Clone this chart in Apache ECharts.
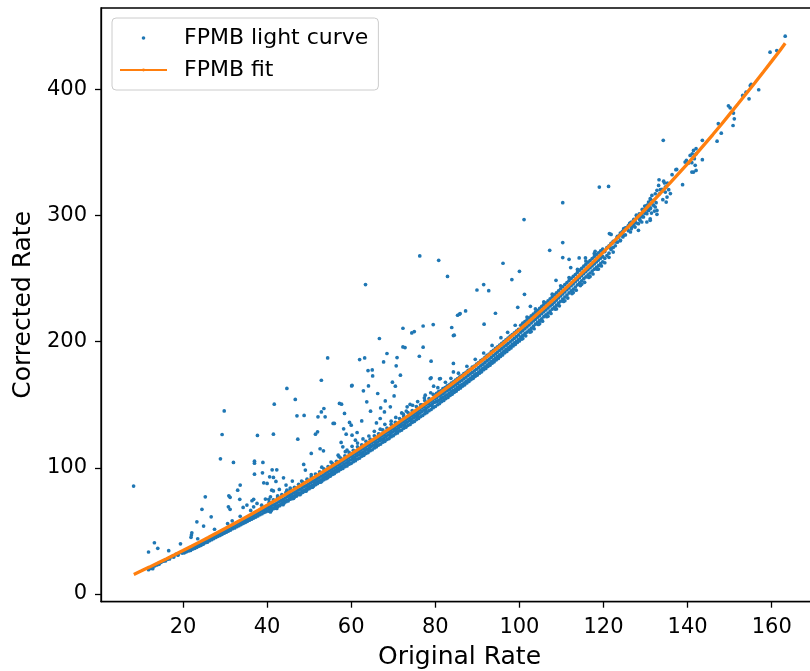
<!DOCTYPE html>
<html>
<head>
<meta charset="utf-8">
<script src="https://cdn.jsdelivr.net/npm/echarts@6/dist/echarts.min.js"></script>
<style>
html,body{margin:0;padding:0;background:#fff;}
#chart{width:810px;height:671px;}
</style>
</head>
<body>
<div id="chart"></div>
<script>
// ---- tick labels ----
const xTicks = [20, 40, 60, 80, 100, 120, 140, 160];
const yTicks = [0, 100, 200, 300, 400];

// ---- FPMB fit ----
const fitX = [8.3,10,12,14,16,18,20,22,24,26,28,30,32,34,36,38,40,42,44,46,48,50,52,54,56,58,60,62,64,66,68,70,72,74,76,78,80,82,84,86,88,90,92,94,96,98,100,102,104,106,108,110,112,114,116,118,120,122,124,126,128,130,132,134,136,138,140,142,144,146,148,150,152,154,156,158,160,162,163.2];
const fitY = [15.5,18.15,21.31,24.53,27.79,31.09,34.45,37.85,41.29,44.77,48.29,51.86,55.48,59.14,62.85,66.61,70.41,74.26,78.16,82.1,86.08,90.12,94.21,98.35,102.53,106.75,111.03,115.35,119.71,124.13,128.59,133.11,137.69,142.33,147.03,151.79,156.63,161.55,166.55,171.63,176.79,182.03,187.35,192.75,198.23,203.81,209.47,215.23,221.07,227.01,233.05,239.19,245.41,251.71,258.11,264.59,271.17,277.83,284.57,291.3,298.2,305.1,312.1,319.2,326.4,333.7,341.1,348.6,356.3,364.1,372.1,380.3,388.5,396.8,405.2,413.7,422.3,431.0,436.4];

// ---- FPMB light curve: dense band, low rates ----
const bandLow = [
[11.8,19.3],[12.3,20.2],[12.8,21.0],[12.8,20.0],[13.3,22.3],[13.8,23.0],[14.3,24.5],[14.3,23.6],[14.8,25.1],[15.3,26.0],
[15.8,27.0],[15.8,26.2],[16.3,27.5],[16.8,28.6],[16.8,27.8],[17.3,29.6],[17.8,30.1],[17.8,29.3],[18.3,31.5],[18.8,31.8],
[18.8,30.8],[19.3,32.9],[19.8,33.5],[19.8,32.4],
[20.3,34.3],[20.3,32.6],[20.8,35.0],[20.8,33.4],[21.3,35.6],[21.3,34.1],[21.8,36.8],[21.8,34.5],[22.3,37.3],[22.3,35.6],
[22.8,38.0],[22.8,36.2],[23.3,39.4],[23.3,37.0],[23.8,40.0],[23.8,37.9],[24.3,40.7],[24.3,38.6],[24.8,41.8],[24.8,39.5],
[25.3,42.3],[25.3,40.6],[25.8,43.5],[25.8,41.1],[26.3,44.2],[26.3,42.3],[26.8,45.0],[26.8,43.0],[27.3,46.2],[27.3,43.9],
[27.8,46.9],[27.8,44.8],[28.3,47.8],[28.3,45.7],[28.8,48.6],[28.8,46.4],[29.3,49.6],[29.3,47.3],[29.8,50.2],[29.8,48.2],
[30.3,51.3],[30.3,49.0],[30.8,52.0],[30.8,49.9],[31.3,53.1],[31.3,50.7],[31.8,53.8],[31.8,51.8],[32.3,54.9],[32.3,52.4],
[32.8,55.5],[32.8,53.3],[33.3,56.6],[33.3,54.1],[33.8,57.3],[33.8,55.0],[34.3,58.2],[34.3,55.9],[34.8,59.1],[34.8,56.7],
[35.3,60.0],[35.3,57.6],[35.8,60.8],[35.8,58.5],[36.3,61.8],[36.3,59.3],[36.8,62.5],[36.8,60.2],[37.3,63.4],[37.3,61.0],
[37.8,64.3],[37.8,61.9],[38.3,65.1],[38.3,62.8],[38.8,66.2],[38.8,63.6],[39.3,66.9],[39.3,64.6],[39.8,67.9],[39.8,65.3]
];

// ---- dense band, middle rates ----
const bandMid = [
[40.3,68.6],[40.3,66.1],[40.8,69.2],[40.8,66.8],[40.8,65.0],[41.3,70.5],[41.3,67.9],[41.8,71.0],[41.8,68.5],[42.3,72.1],
[42.3,69.6],[42.3,67.8],[42.8,73.1],[42.8,70.3],[43.3,74.2],[43.3,71.5],[43.8,75.0],[43.8,72.4],[43.8,70.8],[44.3,76.1],
[44.3,73.6],[44.8,77.2],[44.8,74.3],[45.3,78.0],[45.3,75.5],[45.3,79.9],[45.8,79.1],[45.8,76.4],[46.3,80.2],[46.3,77.3],
[46.3,75.8],[46.8,81.0],[46.8,78.6],[47.3,82.3],[47.3,79.5],[47.8,83.0],[47.8,80.2],[47.8,78.7],[48.3,84.1],[48.3,81.6],
[48.8,85.2],[48.8,82.4],[49.3,86.0],[49.3,83.3],[49.3,81.6],[49.8,87.1],[49.8,84.5],[50.3,88.0],[50.3,85.4],[50.8,89.2],
[50.8,86.3],[50.8,84.6],[51.3,90.1],[51.3,87.5],[51.8,91.0],[51.8,88.4],[51.8,93.0],[52.3,92.1],[52.3,89.4],[52.8,93.3],
[52.8,90.5],[52.8,88.7],[53.3,94.2],[53.3,91.6],[53.8,95.5],[53.8,92.8],[54.3,96.6],[54.3,93.9],[54.3,92.0],[54.8,97.8],
[54.8,95.0],[55.3,98.9],[55.3,96.3],[55.8,100.0],[55.8,97.3],[55.8,95.4],[56.3,101.1],[56.3,98.3],[56.8,102.3],[56.8,99.5],
[56.8,104.3],[57.3,103.3],[57.3,100.7],[57.8,104.5],[57.8,101.6],[57.8,99.8],[58.3,105.6],[58.3,102.9],[58.8,106.8],[58.8,104.0],
[59.3,107.8],[59.3,105.1],[59.3,103.3],[59.8,109.1],[59.8,106.2],[60.3,110.0],[60.3,107.4],[60.8,111.0],[60.8,108.2],[60.8,106.5],
[61.3,112.1],[61.3,109.4],[61.8,113.0],[61.8,110.3],[61.8,115.2],[62.3,114.1],[62.3,111.5],[62.8,115.2],[62.8,112.4],[62.8,110.6],
[63.3,116.3],[63.3,113.6],[63.8,117.5],[63.8,114.7],[64.3,118.6],[64.3,115.8],[64.3,114.0],[64.8,119.8],[64.8,117.0],[65.3,120.9],
[65.3,118.1],[65.8,122.0],[65.8,119.2],[65.8,117.3],[66.3,123.1],[66.3,120.4],[66.8,124.2],[66.8,121.5],[66.8,126.5],[67.3,125.3],
[67.3,122.6],[67.8,126.5],[67.8,123.7],[67.8,121.8],[68.3,127.6],[68.3,124.9],[68.8,128.7],[68.8,126.0],[69.3,129.8],[69.3,127.1],
[69.3,125.3],[69.8,131.0],[69.8,128.3],[70.3,132.0],[70.3,129.4],[70.8,133.2],[70.8,130.5],[70.8,128.6],[71.3,134.4],[71.3,131.6],
[71.8,135.4],[71.8,132.8],[71.8,137.8],[72.3,136.6],[72.3,133.9],[72.8,137.7],[72.8,135.0],[72.8,133.1],[73.3,138.8],[73.3,136.1],
[73.8,140.0],[73.8,137.3],[74.3,141.1],[74.3,138.5],[74.3,136.6],[74.8,142.4],[74.8,139.6],[75.3,143.6],[75.3,140.9],[75.8,144.9],
[75.8,142.1],[75.8,140.0],[76.3,146.1],[76.3,143.3],[76.8,147.4],[76.8,144.5],[76.8,149.9],[77.3,148.6],[77.3,145.8],[77.8,149.9],
[77.8,147.0],[77.8,144.9],[78.3,151.1],[78.3,148.2],[78.8,152.3],[78.8,149.5],[79.3,153.6],[79.3,150.7],[79.3,148.6],[79.8,154.8],
[79.8,151.9]
];

// ---- lower edge of the band ----
const bandLowerEdge = [
[40.5,65.6],[41.0,66.2],[41.5,67.6],[42.0,68.0],[42.5,69.3],[43.0,70.0],[43.5,71.3],[44.0,71.9],[44.5,73.2],[45.0,73.8],
[45.5,75.1],[46.0,75.6],[46.5,76.9],[47.0,77.6],[47.5,78.9],[48.0,79.4],[48.5,80.6],[49.0,81.5],[49.5,82.6],[50.0,83.5],
[50.5,84.5],[51.0,85.4],[51.5,86.6],[52.0,87.5],[52.5,88.6],[53.0,89.4],[53.5,90.6],[54.0,91.4],[54.5,92.6],[55.0,93.4],
[55.5,94.7],[56.0,95.4],[56.5,96.8],[57.0,97.5],[57.5,98.8],[58.0,99.5],[58.5,100.9],[59.0,101.5],[59.5,102.9],[60.0,103.6],
[60.5,104.9],[61.0,105.6],[61.5,107.0],[62.0,107.7],[62.5,109.2],[63.0,109.9],[63.5,111.4],[64.0,112.1],[64.5,113.6],[65.0,114.3],
[65.5,115.8],[66.0,116.6],[66.5,118.0],[67.0,118.8],[67.5,120.3],[68.0,121.0],[68.5,122.5],[69.0,123.2],[69.5,124.7],[70.0,125.5],
[70.5,126.9],[71.0,127.6],[71.5,129.2],[72.0,129.9],[72.5,131.4],[73.0,132.2],[73.5,133.7],[74.0,134.4],[74.5,136.0],[75.0,136.8],
[75.5,138.2],[76.0,139.1],[76.5,140.6],[77.0,141.5],[77.5,142.9],[78.0,143.8],[78.5,145.3],[79.0,146.2],[79.5,147.7],[80.0,148.6],
[80.5,150.0],[81.0,150.9],[81.5,152.5],[82.0,153.4],[82.5,154.9],[83.0,155.8],[83.5,157.4],[84.0,158.3],[84.5,159.8],[85.0,160.8],
[85.5,162.3],[86.0,163.3],[86.5,164.8],[87.0,165.8],[87.5,167.3],[88.0,168.4],[88.5,169.9],[89.0,170.9],[89.5,172.5],[90.0,173.5],
[90.5,175.0],[91.0,176.1],[91.5,177.7],[92.0,178.7],[92.5,180.3],[93.0,181.3],[93.5,182.9],[94.0,184.0],[94.5,185.6],[95.0,186.7],
[95.5,188.3],[96.0,189.4],[96.5,191.1],[97.0,192.2],[97.5,193.8],[98.0,195.0],[98.5,196.6],[99.0,197.8],[99.5,199.4],[100.0,200.6],
[100.5,202.0],[101.5,204.6],[102.5,207.6],[103.5,210.2],[104.5,213.6],[105.5,216.2],[106.5,219.7],[107.5,222.3],[108.5,225.8],[109.5,228.4],
[110.5,231.9],[111.5,234.5],[112.5,238.1],[113.5,240.8],[114.5,244.4],[115.5,247.0],[116.5,250.9],[117.5,253.6],[118.5,257.4],[119.5,260.0]
];

// ---- upper edge of the band (just above the fit) ----
const bandUpperEdge = [
[40.5,72.8],[41.5,74.6],[42.5,76.8],[43.5,78.8],[44.5,80.6],[45.5,82.8],[46.5,84.6],[47.5,86.9],[48.5,88.6],[49.5,91.0],
[50.5,92.7],[51.5,95.1],[52.5,96.8],[53.5,99.2],[54.5,101.0],[55.5,103.5],[56.5,105.2],[57.5,107.8],[58.5,109.5],[59.5,112.2],
[60.5,113.9],[61.5,116.6],[62.5,118.2],[63.5,121.0],[64.5,122.7],[65.5,125.4],[66.5,127.0],[67.5,130.0],[68.5,131.5],[69.5,134.5],
[70.5,136.0],[71.5,139.0],[72.5,140.6],[73.5,143.8],[74.5,145.3],[75.5,148.6],[76.5,150.0],[77.5,153.3],[78.5,154.8],[79.5,158.2]
];

// ---- dense band, high rates ----
const bandHigh = [
[80.3,159.0],[80.3,155.5],[80.3,152.6],[80.8,160.4],[80.8,156.9],[80.8,153.5],[81.3,161.0],[81.3,157.6],[81.3,154.8],[81.8,162.8],
[81.8,158.8],[81.8,155.6],[82.3,163.5],[82.3,160.0],[82.3,157.0],[82.8,164.9],[82.8,161.1],[82.8,157.9],[83.3,165.8],[83.3,162.3],
[83.3,159.3],[83.8,167.1],[83.8,163.4],[83.8,160.4],[84.3,168.2],[84.3,164.6],[84.3,161.4],[84.8,169.6],[84.8,165.7],[84.8,162.3],
[85.3,170.8],[85.3,166.9],[85.3,163.8],[85.8,172.1],[85.8,168.2],[85.8,164.9],[86.3,173.1],[86.3,169.4],[86.3,166.0],[86.8,174.7],
[86.8,170.8],[86.8,167.2],[87.3,175.7],[87.3,171.9],[87.3,168.6],[87.8,177.2],[87.8,173.2],[87.8,169.8],[88.3,178.1],[88.3,174.5],
[88.3,171.0],[88.8,179.8],[88.8,175.7],[88.8,172.3],[89.3,180.7],[89.3,176.9],[89.3,173.6],[89.8,182.2],[89.8,178.1],[89.8,174.7],
[90.3,183.4],[90.3,179.4],[90.3,175.8],[90.8,184.9],[90.8,180.8],[90.8,177.4],[91.3,186.0],[91.3,182.1],[91.3,178.9],[91.8,187.6],
[91.8,183.5],[91.8,180.1],[92.3,189.1],[92.3,184.9],[92.3,181.4],[92.8,190.2],[92.8,186.2],[92.8,182.9],[93.3,191.9],[93.3,187.6],
[93.3,184.2],[93.8,193.0],[93.8,189.0],[93.8,185.5],[94.3,194.6],[94.3,190.3],[94.3,186.9],[94.8,195.8],[94.8,191.7],[94.8,188.4],
[95.3,197.3],[95.3,193.1],[95.3,189.6],[95.8,198.7],[95.8,194.5],[95.8,190.9],[96.3,200.0],[96.3,195.8],[96.3,192.4],[96.8,201.5],
[96.8,197.2],[96.8,193.6],[97.3,202.8],[97.3,198.5],[97.3,195.0],[97.8,204.3],[97.8,199.9],[97.8,196.3],[98.3,205.5],[98.3,201.3],
[98.3,197.8],[98.8,207.0],[98.8,202.6],[98.8,199.1],[99.3,208.4],[99.3,204.0],[99.3,200.3],[99.8,209.8],[99.8,205.4],[99.8,201.8],
[100.3,213.0],[100.3,207.5],[100.3,203.6],[100.8,214.6],[100.8,208.9],[100.8,205.0],[100.8,202.4],[101.3,215.8],[101.3,210.3],[101.3,206.4],
[101.8,217.2],[101.8,211.7],[101.8,207.6],[101.8,219.5],[102.3,218.8],[102.3,213.2],[102.3,209.1],[102.8,220.4],[102.8,214.8],[102.8,210.5],
[102.8,208.0],[103.3,221.8],[103.3,216.4],[103.3,212.1],[103.8,223.4],[103.8,217.7],[103.8,213.8],[103.8,225.9],[104.3,224.6],[104.3,219.4],
[104.3,215.2],[104.8,226.3],[104.8,220.6],[104.8,216.8],[104.8,214.2],[105.3,227.9],[105.3,222.3],[105.3,218.1],[105.8,229.4],[105.8,223.8],
[105.8,219.8],[105.8,231.5],[106.3,230.8],[106.3,225.2],[106.3,221.3],[106.8,232.3],[106.8,226.7],[106.8,222.6],[106.8,220.1],[107.3,233.9],
[107.3,228.3],[107.3,224.2],[107.8,235.4],[107.8,229.6],[107.8,225.8],[107.8,237.6],[108.3,237.0],[108.3,231.2],[108.3,227.2],[108.8,238.6],
[108.8,232.9],[108.8,228.8],[108.8,225.9],[109.3,240.2],[109.3,234.6],[109.3,230.5],[109.8,241.9],[109.8,236.2],[109.8,232.0],[109.8,244.2],
[110.3,243.5],[110.3,237.8],[110.3,233.7],[110.8,245.2],[110.8,239.4],[110.8,235.3],[110.8,232.4],[111.3,246.7],[111.3,241.1],[111.3,236.9],
[111.8,248.4],[111.8,242.6],[111.8,238.6],[111.8,250.8],[112.3,250.1],[112.3,244.3],[112.3,240.2],[112.8,251.7],[112.8,245.8],[112.8,241.6],
[112.8,238.9],[113.3,253.2],[113.3,247.6],[113.3,243.3],[113.8,254.9],[113.8,249.1],[113.8,245.0],[113.8,257.2],[114.3,256.6],[114.3,250.8],
[114.3,246.5],[114.8,258.1],[114.8,252.4],[114.8,248.2],[114.8,245.5],[115.3,259.8],[115.3,254.0],[115.3,249.9],[115.8,261.4],[115.8,255.6],
[115.8,251.3],[115.8,263.9],[116.3,262.9],[116.3,257.1],[116.3,252.9],[116.8,264.3],[116.8,258.6],[116.8,254.4],[116.8,251.6],[117.3,265.9],
[117.3,260.1],[117.3,255.9],[117.8,267.4],[117.8,261.6],[117.8,257.4],[117.8,269.8],[118.3,268.9],[118.3,263.1],[118.3,258.8],[118.8,270.4],
[118.8,264.6],[118.8,260.3],[118.8,257.5],[119.3,271.9],[119.3,266.1],[119.3,261.9],[119.8,273.4],[119.8,267.6],[119.8,263.3],
[120.3,271.4],[120.3,266.0],[120.3,262.5],[120.8,274.5],[120.8,268.2],[121.3,276.0],[121.3,270.1],[121.3,266.8],[121.8,277.9],[121.8,273.0],
[122.3,279.5],[122.3,274.6],[122.3,271.0],[122.8,280.2],[122.8,276.0],[123.3,283.4],[123.3,278.8],[124.0,286.0],[124.0,280.0],[124.6,287.5],
[124.6,283.0],[125.2,290.1],[125.2,284.6],[125.9,292.0],[125.9,287.9],[126.6,294.7],[126.6,289.4],[127.2,297.0],[127.2,291.8],[127.8,300.2],
[127.8,294.0],[128.5,301.2],[128.5,297.2],[129.2,304.8],[129.2,299.0],[129.8,307.5],[129.8,301.8],[130.5,308.2],[130.5,304.6],[131.2,312.5],
[131.2,306.0]
];

// ---- points just above the band ----
const bandUpper = [
[23.5,43.8],[27.5,51.3],[30.6,55.8],[33.6,61.6],[36.1,66.2],[38.7,70.4],[42.5,77.8],[45.5,84.0],[48.2,89.5],[50.5,94.6],
[53.0,100.5],[55.2,104.6],[56.9,110.0],[58.6,112.8],[60.2,117.0],[61.5,119.6],[62.8,122.9],[64.2,125.2],[65.5,128.9],[66.9,130.6],
[68.0,134.5],[69.5,137.0],[70.6,139.9],[72.0,143.5],[73.1,145.0],[74.6,149.6],[75.8,152.5],[77.4,155.4],[78.9,159.5],[80.6,163.5],
[82.4,167.8],[83.7,170.9],[85.5,175.0],[87.5,180.5],[89.5,186.0],[91.5,191.0],[93.5,197.0],[95.6,203.1],[97.2,207.4],[99.0,213.0],
[57.1,108.8],[59.0,114.0],[52.6,115.1]
];

// ---- scattered points above the band ----
const outliers = [
[8.25,85.5],[29.8,145.1],[29.3,126.4],[28.9,107.1],[32.0,104.3],[41.7,150.4],[41.5,126.7],[37.7,125.7],[47.1,141.2],[47.3,122.7],
[37.0,105.3],[37.0,103.7],[39.0,104.3],[37.0,95.0],[38.9,96.0],[41.2,98.4],[42.3,98.4],[40.6,92.9],[41.5,92.4],[42.1,89.2],
[39.2,88.1],[40.0,87.6],[43.9,92.1],[41.1,82.3],[41.5,81.7],[42.9,82.9],[44.5,86.3],[46.0,89.5],[25.3,77.0],[24.5,67.1],
[26.7,61.2],[23.3,57.2],[24.9,53.8],[22.1,48.5],[22.0,46.7],[21.9,44.9],[19.4,39.8],[16.6,34.3],[13.2,40.6],[14.0,36.2],
[11.8,33.3],[30.9,77.8],[31.2,76.6],[30.8,69.1],[31.2,67.1],[33.0,82.3],[33.6,86.3],[33.5,75.0],[31.7,58.0],[35.2,70.5],
[34.3,68.6],[36.8,75.0],[40.8,77.0],[39.6,75.2],[40.4,75.0],[36.4,73.9],[37.6,71.8],[36.8,69.1],[44.7,82.3],
[63.4,245.2],[76.3,267.9],[80.8,264.4],[82.9,251.7],[85.7,221.7],[72.3,210.6],[74.4,206.9],[75.0,208.0],[77.1,212.4],[79.5,213.5],
[83.9,211.2],[84.3,204.8],[66.7,202.5],[72.3,195.8],[72.8,195.3],[77.1,195.6],[68.5,190.6],[76.2,188.4],[70.9,187.4],[67.7,183.9],
[79.0,184.5],[54.4,187.1],[62.0,185.8],[63.2,187.1],[64.0,177.1],[65.0,177.6],[65.1,172.8],[70.7,180.8],[71.7,173.4],[69.8,167.9],
[52.9,169.4],[44.7,162.9],[46.7,154.2],[60.1,164.9],[64.1,164.9],[62.9,161.0],[57.2,151.0],[57.7,150.4],[53.5,147.0],[52.9,144.3],
[53.8,140.4],[48.8,141.5],[52.1,140.4],[58.4,143.1],[55.7,135.2],[56.0,135.2],[59.6,136.0],[60.0,133.8],[62.5,137.2],[64.6,144.9],
[63.7,152.3],[67.0,147.5],[68.1,153.0],[70.2,157.0],[69.3,148.3],[66.0,135.6],[66.9,139.1],[58.2,130.9],[58.8,126.7],[60.2,125.9],
[61.0,121.9],[61.4,128.0],[51.5,126.7],[52.0,128.5],[50.5,111.4],[53.4,113.5],[48.7,102.7],[49.1,98.2],[57.6,120.1],[58.0,116.6],
[73.3,148.3],[74.0,150.2],[72.4,142.5],[77.6,157.6],[79.6,164.7],[81.2,170.8],[79.0,171.3],[84.3,182.7],[84.3,176.0],[70.5,164.7],
[66.3,158.9],[67.9,144.3],[78.8,170.7],[81.0,170.5],[60.2,165.4],
[119.0,322.5],[121.2,323.0],[110.3,310.1],[101.1,296.7],[110.3,278.5],[107.2,272.4],[110.3,266.6],[111.8,265.2],[114.2,266.3],[115.7,266.3],
[112.2,258.7],[96.1,262.1],[100.0,255.7],[98.2,249.2],[91.5,245.2],[89.9,240.9],[92.7,240.4],[101.2,237.5],[99.6,227.2],[102.6,228.0],
[108.7,248.6],[94.3,222.5],[87.2,224.3],[85.9,222.2],[85.3,220.9],[84.5,205.1],[91.6,213.8],[121.4,285.6],[118.0,271.6],[119.8,272.9]
];

// ---- sparse points at the highest rates ----
const highRate = [
[131.5,315.9],[131.1,313.3],[130.7,310.6],[130.3,308.0],[129.9,305.4],[131.5,309.3],[131.9,311.9],[132.3,306.7],[132.7,304.0],[132.7,300.9],
[131.1,297.4],[130.7,304.0],[129.5,298.8],[128.7,296.1],[129.1,301.4],[127.9,298.8],[127.5,295.6],[127.1,293.5],[126.7,290.8],[126.2,293.5],
[125.6,290.3],[124.8,289.5],[124.4,286.9],[123.8,284.3],[123.2,282.4],[124.8,284.3],[126.4,286.9],[128.3,288.2],[127.5,290.8],[121.8,285.0],
[130.3,301.4],[132.1,303.5],[131.4,301.9],[130.3,294.8],[131.1,296.1],[129.1,294.8],[128.3,293.5],[132.5,310.1],[133.3,317.2],[134.7,318.5],
[133.2,328.3],[134.3,327.2],[135.2,325.7],[134.7,322.5],[133.5,320.4],[134.0,319.3],[135.5,320.4],[135.9,317.3],[135.1,314.6],[134.9,310.6],
[134.1,312.5],[138.8,324.4],[137.2,336.3],[137.4,336.5],[136.3,332.3],[139.7,343.6],[139.4,342.3],[140.2,341.5],[141.8,339.7],[141.4,334.4],
[142.0,335.7],[141.4,351.5],[142.0,352.9],[141.1,348.9],[140.6,347.6],[143.5,359.5],[143.5,344.2],[147.0,358.9],[148.0,365.2],[147.3,372.7],
[149.7,386.9],[134.2,359.5],[163.2,442.1],[159.6,429.4],[161.2,430.7],[156.9,399.6],[154.6,392.4],[153.1,395.1],[153.9,397.7],[154.9,403.0],
[155.1,403.8],[150.1,385.3],[150.9,381.1],[151.1,376.6],[150.8,371.3],[142.0,348.9],[141.6,345.0],[141.0,341.8],[141.0,334.4],[134.5,325.7],
[134.8,322.5],[133.9,320.7],[133.1,323.8],[132.7,319.9],[132.3,317.2],[131.9,308.0],[131.1,305.4],[129.9,304.0],[128.7,298.8],[126.3,294.0],
[124.0,280.3],[122.8,279.0],[122.0,277.7],[121.6,274.5],[123.6,282.9],[124.4,285.6],[124.8,288.2]
];

const lightCurve = [].concat(bandLow, bandMid, bandLowerEdge, bandUpperEdge, bandHigh, bandUpper, outliers, highRate);
const fitData = fitX.map((x, i) => [x, fitY[i]]);

const FONT = 'DejaVu Sans';
const chart = echarts.init(document.getElementById('chart'), null, {renderer: 'canvas'});
chart.setOption({
  animation: false,
  backgroundColor: '#ffffff',
  textStyle: {fontFamily: FONT},
  grid: {
    left: 101, top: 8, right: -8, bottom: 69.3,
    containLabel: false, outerBoundsMode: 'none',
    show: true, borderColor: '#000', borderWidth: 1.3, backgroundColor: 'transparent'
  },
  legend: {
    orient: 'vertical',
    left: 112, top: 18,
    padding: [9, 10, 9, 7],
    itemWidth: 47, itemHeight: 3.6, itemGap: 10,
    backgroundColor: 'rgba(255,255,255,0.8)',
    borderColor: '#cccccc', borderWidth: 1, borderRadius: 4,
    textStyle: {fontFamily: FONT, fontSize: 22, color: '#000', lineHeight: 22, padding: [0, 0, 0, 12]},
    data: [
      {name: 'FPMB light curve', icon: 'circle'},
      {name: 'FPMB fit'}
    ]
  },
  xAxis: {
    type: 'value', min: 0.5, max: 171,
    name: 'Original Rate', nameLocation: 'middle', nameGap: 43,
    nameTextStyle: {fontFamily: FONT, fontSize: 25, color: '#000'},
    axisLine: {show: true, onZero: false, lineStyle: {color: '#000', width: 1.3}},
    axisTick: {show: true, length: 6, customValues: xTicks, lineStyle: {color: '#000', width: 1.3}},
    axisLabel: {show: true, customValues: xTicks, margin: 15, fontFamily: FONT, fontSize: 21, color: '#000'},
    splitLine: {show: false}
  },
  yAxis: {
    type: 'value', min: -6.1, max: 464.4,
    name: 'Corrected Rate', nameLocation: 'middle', nameGap: 57,
    nameTextStyle: {fontFamily: FONT, fontSize: 25, color: '#000'},
    axisLine: {show: true, onZero: false, lineStyle: {color: '#000', width: 1.3}},
    axisTick: {show: true, length: 6, customValues: yTicks, lineStyle: {color: '#000', width: 1.3}},
    axisLabel: {show: true, customValues: yTicks, margin: 14, fontFamily: FONT, fontSize: 21, color: '#000'},
    splitLine: {show: false}
  },
  series: [
    {
      name: 'FPMB light curve', type: 'scatter', data: lightCurve,
      symbol: 'circle', symbolSize: 3.7,
      itemStyle: {color: '#1f77b4', opacity: 1},
      emphasis: {disabled: true}
    },
    {
      name: 'FPMB fit', type: 'line', data: fitData,
      symbol: 'none', smooth: false,
      lineStyle: {color: '#ff7f0e', width: 3.3},
      itemStyle: {color: '#ff7f0e'},
      emphasis: {disabled: true}
    }
  ]
});
</script>
</body>
</html>
